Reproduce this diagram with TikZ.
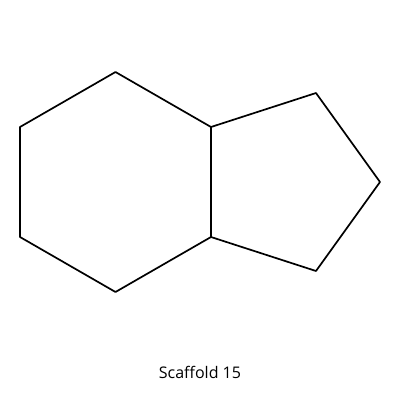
\documentclass[tikz,border=0pt]{standalone}
\usepackage{fontspec}
\setmainfont{Open Sans}
\begin{document}
\begin{tikzpicture}[x = 1pt, y = -1pt, bond/.style = {line width = 1.7pt, line cap = round, line join = round}]
	\useasboundingbox (0,0) rectangle (400,400);
	\coordinate (a1) at (115.5,72);
	\coordinate (a2) at (20,127);
	\coordinate (a3) at (20,237);
	\coordinate (a4) at (115.5,292);
	\coordinate (a5) at (211,237);
	\coordinate (a6) at (211,127);
	\coordinate (a7) at (316,93);
	\coordinate (a8) at (380,182);
	\coordinate (a9) at (316,271);
	\draw[bond] (a1)--(a2)--(a3)--(a4)--(a5)--(a6)--cycle;
	\draw[bond] (a6)--(a7)--(a8)--(a9)--(a5);
	\node[font = \fontsize{16pt}{19pt}\selectfont] (title) at (200,372) {Scaffold 15};
\end{tikzpicture}
\end{document}
